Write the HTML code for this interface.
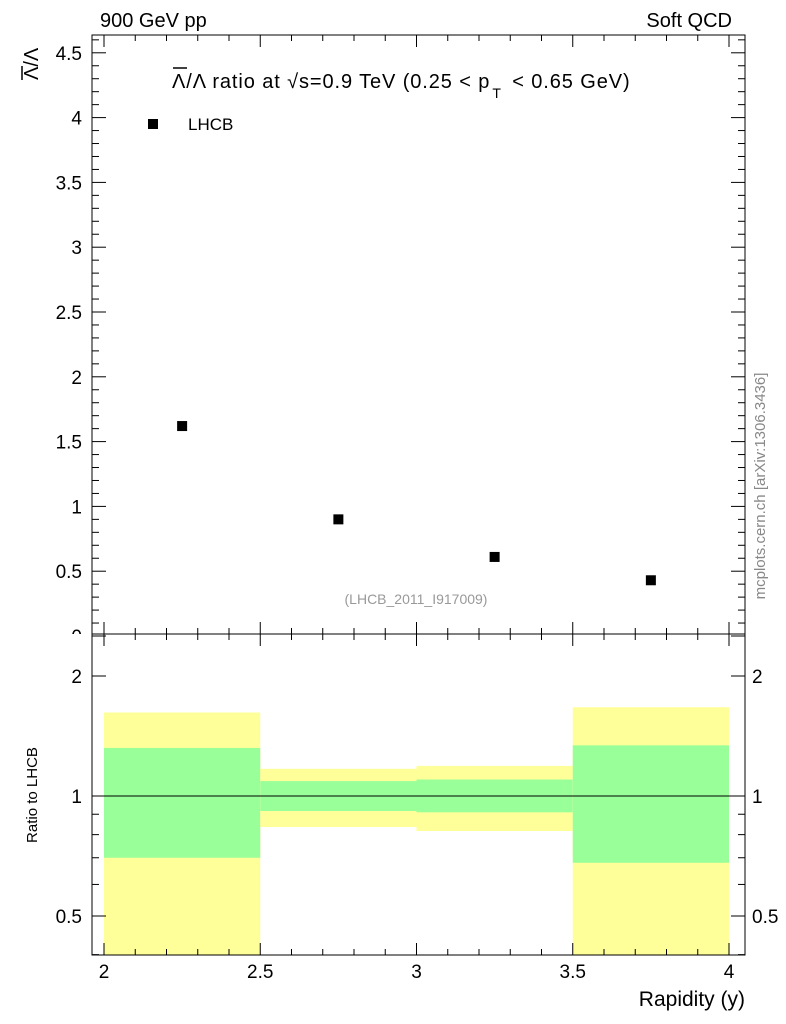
<!DOCTYPE html>
<html><head><meta charset="utf-8"><style>
body{margin:0;background:#fff;}
svg{display:block;font-family:"Liberation Sans",sans-serif;}
</style></head><body>
<svg id="c" width="786" height="1024" xmlns="http://www.w3.org/2000/svg"></svg>
<script>
const xBins=[2,2.5,3,3.5,4];
const xCenters=[2.25,2.75,3.25,3.75];
const values=[1.62,0.90,0.61,0.43];
const yellowHi=[1.62,1.17,1.19,1.67];
const yellowLo=[0.3,0.836,0.817,0.3];
const greenHi=[1.32,1.09,1.10,1.34];
const greenLo=[0.70,0.917,0.91,0.68];
const mainTicks=[0,0.5,1,1.5,2,2.5,3,3.5,4,4.5];
const mainTickLabels=["0","0.5","1","1.5","2","2.5","3","3.5","4","4.5"];
const ratioTicks=[0.5,1,2];
const ratioTickLabels=["0.5","1","2"];
const xTicks=[2,2.5,3,3.5,4];
const xTickLabels=["2","2.5","3","3.5","4"];

const NS="http://www.w3.org/2000/svg";
const svg=document.getElementById('c');
const L=92,R=745,T=35,M=634,B=955;
const X=v=>104+(v-2)*312.5;
const Y=v=>636-129.6*v;
const RY=v=>796-120*Math.log2(v);
function el(t,a,p){const e=document.createElementNS(NS,t);for(const k in a)e.setAttribute(k,a[k]);(p||svg).appendChild(e);return e;}
function txt(x,y,s,a){const e=el('text',Object.assign({x:x,y:y},a||{}));e.textContent=s;return e;}

const gb=el('g',{});


for(let i=0;i<4;i++){
  const x0=X(xBins[i]),x1=X(xBins[i+1]);
  const yt=RY(yellowHi[i]),yb=Math.min(B,RY(yellowLo[i]));
  const r=el('rect',{x:x0,y:yt,width:x1-x0,height:yb-yt,fill:'#ffff99'},gb);
  
  
  const gt=RY(greenHi[i]),gbm=RY(greenLo[i]);
  const g=el('rect',{x:x0,y:gt,width:x1-x0,height:gbm-gt,fill:'#99ff99'},gb);
  
  
}
el('line',{x1:L,x2:R,y1:RY(1),y2:RY(1),stroke:'#000','stroke-width':1});

const f1=el('rect',{x:L,y:T,width:R-L,height:M-T,fill:'none',stroke:'#000','stroke-width':1});


const f2=el('rect',{x:L,y:M,width:R-L,height:B-M,fill:'none',stroke:'#000','stroke-width':1});



for(let v=2;v<=4.0001;v+=0.1){
  const major=Math.abs(v*2-Math.round(v*2))<1e-6;
  const len=major?12:6,x=X(v);
  [[T,1],[M,-1],[M,1],[B,-1]].forEach(([y,d])=>el('line',{x1:x,x2:x,y1:y,y2:y+d*len,stroke:'#000'}));
}
xTicks.forEach((v,i)=>{const t=txt(X(v),978,xTickLabels[i],{'font-size':19,'text-anchor':'middle'});
 });
for(let v=0;v<=4.6;v+=0.1){
  const major=Math.abs(v*2-Math.round(v*2))<1e-6,len=major?14:7,y=Y(v);
  if(y<T)continue;
  el('line',{x1:L,x2:L+len,y1:y,y2:y,stroke:'#000'});
  el('line',{x1:R,x2:R-len,y1:y,y2:y,stroke:'#000'});
}
mainTicks.forEach((v,i)=>{const t=txt(82,Y(v)+7,mainTickLabels[i],{'font-size':19,'text-anchor':'end'});
 });
el('rect',{x:60,y:M,width:30,height:20,fill:'#fff'});
[0.4,0.5,0.6,0.7,0.8,0.9,1,2].forEach(v=>{
  const major=ratioTicks.includes(v),len=major?14:7,y=RY(v);
  el('line',{x1:L,x2:L+len,y1:y,y2:y,stroke:'#000'});
  el('line',{x1:R,x2:R-len,y1:y,y2:y,stroke:'#000'});
});
ratioTicks.forEach((v,i)=>{
  let t=txt(82,RY(v)+7,ratioTickLabels[i],{'font-size':19,'text-anchor':'end'});
  
  t=txt(752,RY(v)+7,ratioTickLabels[i],{'font-size':19});
  
});

values.forEach((v,i)=>{
  const r=el('rect',{x:X(xCenters[i])-5,y:Y(v)-5,width:10,height:10,fill:'#000'});
  
  
});
</script>
<script>
(function(){
const NS="http://www.w3.org/2000/svg",svg=document.getElementById('c');
function add(x,y,s,a,name){const e=document.createElementNS(NS,'text');e.setAttribute('x',x);e.setAttribute('y',y);for(const k in a)e.setAttribute(k,a[k]);e.textContent=s;


svg.appendChild(e);return e;}
function line(a){const e=document.createElementNS(NS,'line');for(const k in a)e.setAttribute(k,a[k]);svg.appendChild(e);}
add(100,27,"900 GeV pp",{'font-size':20},'energy-label');
add(732,27,"Soft QCD",{'font-size':20,'text-anchor':'end'},'category-label');
const t=add(172,88,"Λ/Λ ratio at √s=0.9 TeV (0.25 < p",{'font-size':20,'letter-spacing':'0.9'},'plot-title');
const s1=document.createElementNS(NS,'tspan');s1.setAttribute('font-size',14);s1.setAttribute('dy',10);s1.setAttribute('dx',2);s1.textContent='T';t.appendChild(s1);
const s2=document.createElementNS(NS,'tspan');s2.setAttribute('dy',-10);s2.setAttribute('dx',4);s2.textContent=' < 0.65 GeV)';t.appendChild(s2);
line({x1:173,x2:187,y1:68,y2:68,stroke:'#000','stroke-width':1.5});
const r=document.createElementNS(NS,'rect');r.setAttribute('x',148);r.setAttribute('y',119);r.setAttribute('width',10);r.setAttribute('height',10);


svg.appendChild(r);
add(188,130,"LHCB",{'font-size':17},'legend-label');
add(416,604,"(LHCB_2011_I917009)",{'font-size':14,'fill':'#999','text-anchor':'middle'},'analysis-id');
add(745,1006,"Rapidity (y)",{'font-size':21,'text-anchor':'end'},'x-axis-title');
add(0,0,"Λ/Λ",{'font-size':20,'transform':'translate(38,80) rotate(-90)'},'y-axis-title');
line({x1:22,x2:22,y1:66,y2:80,stroke:'#000','stroke-width':1.5});
add(0,0,"Ratio to LHCB",{'font-size':15,'text-anchor':'middle','transform':'translate(37,795) rotate(-90)'},'ratio-axis-title');
add(0,0,"mcplots.cern.ch [arXiv:1306.3436]",{'font-size':15,'fill':'#888','text-anchor':'middle','transform':'translate(765,486) rotate(-90)'},'watermark');
})();
</script>
</body></html>
